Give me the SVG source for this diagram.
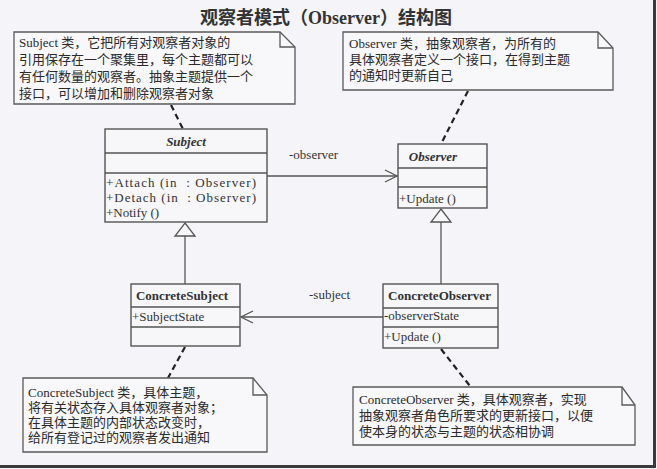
<svg xmlns="http://www.w3.org/2000/svg" width="657" height="469" viewBox="0 0 657 469">
<defs>
<style>
.bg{fill:#f5f4f8}
.note{fill:#f8f7fa;stroke:#5a5a5a;stroke-width:1.3}
.fold{fill:none;stroke:#5a5a5a;stroke-width:1.3}
.box{fill:#f7f6f9;stroke:#555;stroke-width:1.4}
.sep{stroke:#555;stroke-width:1.3}
.t{font-family:"Liberation Serif","Noto Sans CJK SC",serif;font-size:13px;fill:#333}
.n{font-family:"Liberation Serif","Noto Sans CJK SC",serif;font-size:13px;fill:#2a2a2a}
.title{font-family:"Liberation Serif","Noto Sans CJK SC",serif;font-size:18px;font-weight:bold;fill:#333}
.dash{stroke:#222;stroke-width:2.2;stroke-dasharray:6,4;fill:none}
.assoc{stroke:#555;stroke-width:1.3;fill:none}
.gen{fill:#f7f6f9;stroke:#555;stroke-width:1.3}
</style>
<marker id="open" markerWidth="14" markerHeight="14" refX="13" refY="7" orient="auto" markerUnits="userSpaceOnUse">
<path d="M1,1 L13,7 L1,13" fill="none" stroke="#555" stroke-width="1.3"/>
</marker>
</defs>
<rect class="bg" x="0" y="0" width="657" height="469"/>
<rect x="653" y="0" width="3" height="468" fill="#3a3a3a"/>
<rect x="0" y="465" width="656" height="3" fill="#3a3a3a"/>

<text class="title" x="326" y="24" text-anchor="middle">观察者模式（Observer）结构图</text>

<g id="connectors">
<line class="dash" x1="171" y1="105" x2="183" y2="129"/>
<line class="dash" x1="468" y1="91" x2="441" y2="144"/>
<line class="dash" x1="185" y1="347" x2="168" y2="378"/>
<line class="dash" x1="441" y1="349" x2="470" y2="386"/>
<line class="assoc" x1="267" y1="176" x2="397" y2="176" marker-end="url(#open)"/>
<text class="t" x="289" y="159">-observer</text>
<line class="assoc" x1="383" y1="317" x2="241" y2="317" marker-end="url(#open)"/>
<text class="t" x="309" y="299">-subject</text>
<line class="assoc" x1="185" y1="236" x2="185" y2="284"/>
<polygon class="gen" points="185,223 195,236 175,236"/>
<line class="assoc" x1="441" y1="222" x2="441" y2="284"/>
<polygon class="gen" points="441,209 451,222 431,222"/>
</g>

<g id="note-subject">
<path class="note" d="M14,32 H280 L295,47 V104 H14 Z"/>
<path class="fold" d="M280,32 V47 H295"/>
<text class="n" x="19" y="47">Subject 类，它把所有对观察者对象的</text>
<text class="n" x="19" y="64">引用保存在一个聚集里，每个主题都可以</text>
<text class="n" x="19" y="81">有任何数量的观察者。抽象主题提供一个</text>
<text class="n" x="19" y="98">接口，可以增加和删除观察者对象</text>
</g>

<g id="note-observer">
<path class="note" d="M343,32 H598 L613,48 V90 H343 Z"/>
<path class="fold" d="M598,32 V48 H613"/>
<text class="n" x="349" y="48">Observer 类，抽象观察者，为所有的</text>
<text class="n" x="349" y="64">具体观察者定义一个接口，在得到主题</text>
<text class="n" x="349" y="80">的通知时更新自己</text>
</g>

<g id="subject">
<rect class="box" x="105" y="129" width="162" height="93"/>
<line class="sep" x1="105" y1="153" x2="267" y2="153"/>
<line class="sep" x1="105" y1="173" x2="267" y2="173"/>
<text class="t" x="186" y="146" text-anchor="middle" font-style="italic" font-weight="bold">Subject</text>
<text class="t" x="106" y="187" textLength="150" lengthAdjust="spacing" xml:space="preserve">+Attach (in  : Observer)</text>
<text class="t" x="106" y="202" textLength="150" lengthAdjust="spacing" xml:space="preserve">+Detach (in  : Observer)</text>
<text class="t" x="106" y="217">+Notify ()</text>
</g>

<g id="observer">
<rect class="box" x="398" y="144" width="89" height="64"/>
<line class="sep" x1="398" y1="168" x2="487" y2="168"/>
<line class="sep" x1="398" y1="187" x2="487" y2="187"/>
<text class="t" x="433" y="161" text-anchor="middle" font-style="italic" font-weight="bold">Observer</text>
<text class="t" x="399" y="203">+Update ()</text>
</g>

<g id="concrete-subject">
<rect class="box" x="131" y="284" width="109" height="62"/>
<line class="sep" x1="131" y1="307" x2="240" y2="307"/>
<line class="sep" x1="131" y1="327" x2="240" y2="327"/>
<text class="t" x="136" y="300" font-weight="bold" textLength="92" lengthAdjust="spacingAndGlyphs">ConcreteSubject</text>
<text class="t" x="132" y="321">+SubjectState</text>
</g>

<g id="concrete-observer">
<rect class="box" x="383" y="284" width="115" height="64"/>
<line class="sep" x1="383" y1="308" x2="498" y2="308"/>
<line class="sep" x1="383" y1="327" x2="498" y2="327"/>
<text class="t" x="388" y="300" font-weight="bold" textLength="103" lengthAdjust="spacingAndGlyphs">ConcreteObserver</text>
<text class="t" x="384" y="320">-observerState</text>
<text class="t" x="384" y="341">+Update ()</text>
</g>

<g id="note-concrete-subject">
<path class="note" d="M23,378 H253 L267,395 V452 H23 Z"/>
<path class="fold" d="M253,378 V395 H267"/>
<text class="n" x="28" y="397">ConcreteSubject 类，具体主题，</text>
<text class="n" x="28" y="412">将有关状态存入具体观察者对象；</text>
<text class="n" x="28" y="427">在具体主题的内部状态改变时，</text>
<text class="n" x="28" y="442">给所有登记过的观察者发出通知</text>
</g>

<g id="note-concrete-observer">
<path class="note" d="M353,387 H622 L635,405 V445 H353 Z"/>
<path class="fold" d="M622,387 V405 H635"/>
<text class="n" x="359" y="404">ConcreteObserver 类，具体观察者，实现</text>
<text class="n" x="359" y="420">抽象观察者角色所要求的更新接口，以便</text>
<text class="n" x="359" y="436">使本身的状态与主题的状态相协调</text>
</g>
</svg>
